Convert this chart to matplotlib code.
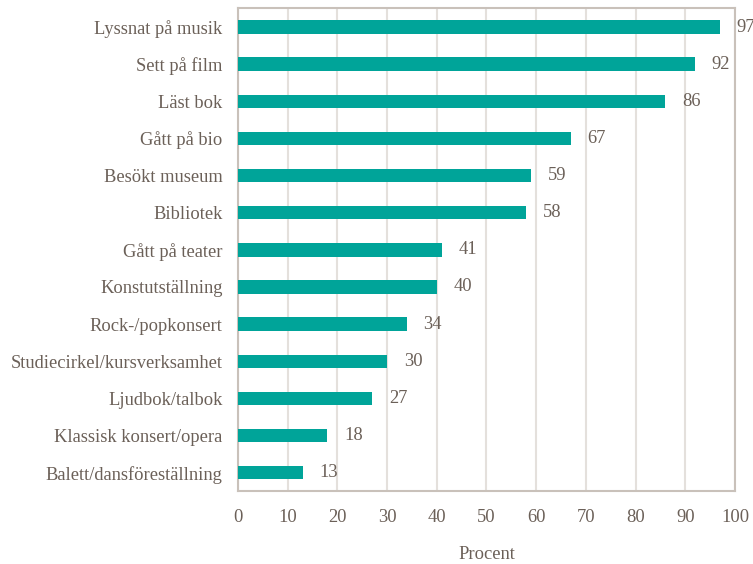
import matplotlib.pyplot as plt

kategorier = [
    "Lyssnat på musik", "Sett på film", "Läst bok", "Gått på bio",
    "Besökt museum", "Bibliotek", "Gått på teater", "Konstutställning",
    "Rock-/popkonsert", "Studiecirkel/kursverksamhet", "Ljudbok/talbok",
    "Klassisk konsert/opera", "Balett/dansföreställning",
]
procent = [97, 92, 86, 67, 59, 58, 41, 40, 34, 30, 27, 18, 13]
xticks = list(range(0, 101, 10))

textfarg = "#6b6058"
plt.rcParams["font.family"] = ["Liberation Serif", "DejaVu Serif"]
fs = 13.3

fig = plt.figure(figsize=(7.53, 5.64), dpi=100)
ax = fig.add_axes([0.316, 0.129, 0.66, 0.856])

y = list(range(len(kategorier)))
ax.barh(y, procent, height=0.36, color="#00a499", zorder=3)

for yi, v in zip(y, procent):
    ax.annotate(str(v), (v, yi), xytext=(12, 0), textcoords="offset points",
                va="center", ha="left", fontsize=fs, color=textfarg,
                annotation_clip=False)

ax.set_xlim(0, 100)
ax.set_ylim(12.5, -0.5)
ax.set_yticks(y)
ax.set_yticklabels(kategorier)
ax.set_xticks(xticks)
ax.tick_params(axis="both", length=0, labelsize=fs, colors=textfarg)
ax.tick_params(axis="x", pad=13)
ax.tick_params(axis="y", pad=11)
ax.grid(axis="x", color="#e4e0dc", linewidth=1.5, zorder=0)
for s in ax.spines.values():
    s.set_color("#c9c1ba")
    s.set_linewidth(1.5)

ax.set_xlabel("Procent", fontsize=fs, color=textfarg, labelpad=14)

fig.savefig("out.png")
